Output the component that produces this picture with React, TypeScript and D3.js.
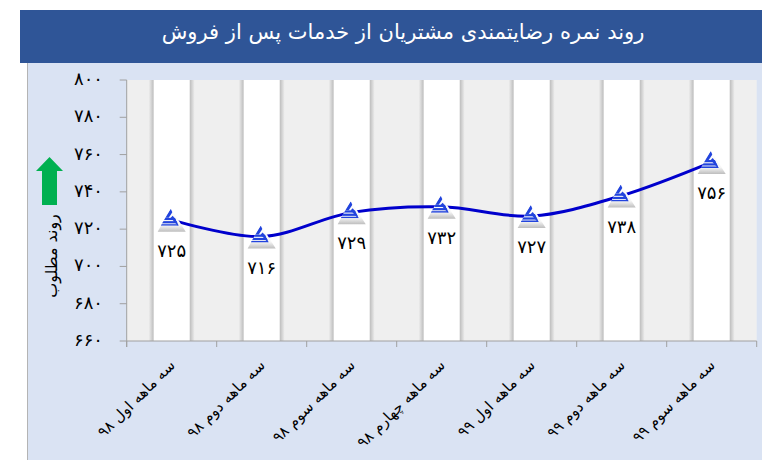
import React from "react";
import * as d3 from "d3";

const categories = [
  "سه ماهه اول ۹۸",
  "سه ماهه دوم ۹۸",
  "سه ماهه سوم ۹۸",
  "سه ماهه چهارم ۹۸",
  "سه ماهه اول ۹۹",
  "سه ماهه دوم  ۹۹",
  "سه ماهه سوم ۹۹",
];
const values = [725, 716, 729, 732, 727, 738, 756];
const yTicks = [660, 680, 700, 720, 740, 760, 780, 800];
const title = "روند نمره رضایتمندی مشتریان از خدمات پس از فروش";
const yLabel = "روند مطلوب";

const faDigits = "۰۱۲۳۴۵۶۷۸۹";
const toFa = (n: number) => String(n).replace(/\d/g, (d) => faDigits[+d]);

const W = 762;
const H = 460;
const plot = { left: 126.7, right: 756.7, top: 80, bottom: 341 };
const FONT = "'DejaVu Sans', sans-serif";

function Marker({ x, y, id }: { x: number; y: number; id: string }) {
  return (
    <g transform={`translate(${x},${y})`}>
      <path d="M-1,-12 L14,12 L-14,12 Z" fill="url(#markerFill)" />
      <clipPath id={id}>
        <path d="M-1,-11 L7,6 L-11,6 Z" />
      </clipPath>
      <g clipPath={`url(#${id})`} fill="#2244dd">
        <path d="M-1,-11 L3,-11 L-3,-2 L-7,-2 Z" />
        <rect x={-12} y={-2} width={20} height={2.2} />
        <rect x={-12} y={1.3} width={20} height={2.2} />
        <rect x={-12} y={4.4} width={20} height={2} />
        <path d="M1,-4 L9,6 L6,6 L-1,-2 Z" />
      </g>
    </g>
  );
}

export default function App() {
  const x = d3
    .scaleBand<string>()
    .domain(categories)
    .range([plot.left, plot.right])
    .padding(0);
  const y = d3.scaleLinear().domain([660, 800]).range([plot.bottom, plot.top]);
  const bw = x.bandwidth();
  const pts: [number, number][] = values.map((v, i) => [
    (x(categories[i]) as number) + bw / 2,
    y(v),
  ]);
  const line = d3.line().curve(d3.curveCatmullRom.alpha(0.5))(pts) || "";
  const band = 36;

  return (
    <div style={{ position: "absolute", left: 0, top: 0 }}>
      <svg width={W} height={H} style={{ display: "block" }}>
        <defs>
          <linearGradient id="bandShadow" x1="0" x2="1" y1="0" y2="0">
            <stop offset="0" stopColor="#efefef" />
            <stop offset="0.09" stopColor="#c4c4c4" />
            <stop offset="0.91" stopColor="#c4c4c4" />
            <stop offset="1" stopColor="#efefef" />
          </linearGradient>
          <linearGradient id="markerFill" x1="0" x2="0" y1="0" y2="1">
            <stop offset="0" stopColor="#ffffff" />
            <stop offset="0.72" stopColor="#f6f6f6" />
            <stop offset="1" stopColor="#bdbdbd" />
          </linearGradient>
        </defs>
        <rect x={0} y={0} width={W} height={H} fill="#ffffff" />
        <rect x={20} y={10} width={W - 20} height={53} fill="#2f5597" />
        <rect x={27} y={63} width={W - 27} height={H - 63} fill="#dae3f3" />
        <line x1={27.5} x2={27.5} y1={63} y2={H} stroke="#b4b4b4" />
        <text
          x={403}
          y={33}
          fill="#ffffff"
          fontSize={21}
          fontFamily={FONT}
          textAnchor="middle"
          dominantBaseline="middle"
          direction="rtl"
        >
          {title}
        </text>

        {/* plot area */}
        <rect
          x={plot.left}
          y={plot.top}
          width={plot.right - plot.left}
          height={plot.bottom - plot.top}
          fill="#efefef"
        />
        {categories.map((c) => {
          const cx = (x(c) as number) + bw / 2;
          return (
            <g key={c}>
              <rect
                x={cx - band / 2 - 5}
                y={plot.top}
                width={band + 10}
                height={plot.bottom - plot.top}
                fill="url(#bandShadow)"
              />
              <rect
                x={cx - band / 2}
                y={plot.top}
                width={band}
                height={plot.bottom - plot.top}
                fill="#ffffff"
              />
            </g>
          );
        })}

        {/* axes */}
        <line
          x1={plot.left}
          x2={plot.left}
          y1={plot.top}
          y2={plot.bottom + 6}
          stroke="#a0a0a0"
        />
        <line
          x1={plot.left}
          x2={plot.right}
          y1={plot.bottom}
          y2={plot.bottom}
          stroke="#a0a0a0"
        />
        {yTicks.map((t) => (
          <g key={t}>
            <line
              x1={plot.left - 7}
              x2={plot.left}
              y1={y(t)}
              y2={y(t)}
              stroke="#a0a0a0"
            />
            <text
              x={103}
              y={y(t)}
              fontSize={18}
              fontFamily={FONT}
              textAnchor="end"
              dominantBaseline="middle"
              fill="#000"
            >
              {toFa(t)}
            </text>
          </g>
        ))}
        {d3.range(categories.length + 1).map((i) => {
          const tx = plot.left + i * bw;
          return (
            <line
              key={i}
              x1={tx}
              x2={tx}
              y1={plot.bottom}
              y2={plot.bottom + 6}
              stroke="#a0a0a0"
            />
          );
        })}
        {categories.map((c) => {
          const cx = (x(c) as number) + bw / 2;
          return (
            <text
              key={c}
              transform={`translate(${cx + 1},${plot.bottom + 22}) rotate(-45)`}
              fontSize={15}
              fontFamily={FONT}
              textAnchor="start"
              dominantBaseline="middle"
              direction="rtl"
              fill="#000"
            >
              {c}
            </text>
          );
        })}

        {/* y label + arrow */}
        <text
          transform={`translate(52,256) rotate(-90)`}
          fontSize={16}
          fontFamily={FONT}
          textAnchor="middle"
          dominantBaseline="middle"
          direction="rtl"
          fill="#000"
        >
          {yLabel}
        </text>
        <path
          d="M49.5,157 L63,171 L57,171 L57,205 L42,205 L42,171 L36,171 Z"
          fill="#00b050"
        />

        {/* series */}
        <path d={line} fill="none" stroke="#0000cc" strokeWidth={3} />
        {pts.map(([px, py], i) => (
          <g key={i}>
            <Marker x={px} y={py} id={`mk${i}`} />
            <text
              x={px}
              y={py + 32}
              fontSize={18}
              fontFamily={FONT}
              textAnchor="middle"
              dominantBaseline="middle"
              fill="#000"
            >
              {toFa(values[i])}
            </text>
          </g>
        ))}
      </svg>
    </div>
  );
}
